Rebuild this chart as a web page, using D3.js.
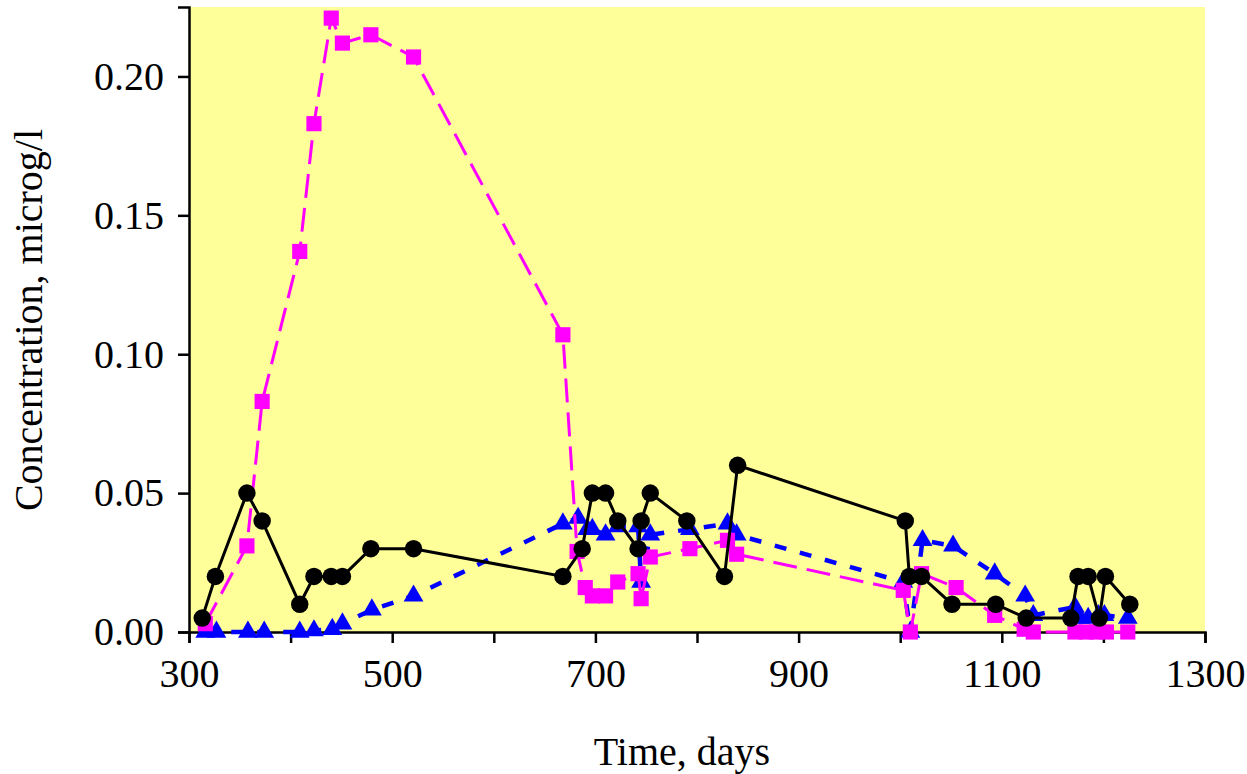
<html>
<script src="https://d3js.org/d3.v7.min.js"></script>
<body style="margin:0;background:#fff">
<div id="chart"></div>
<script>
// black circles
var blackX = [313,326,357,372,409,423,440,451,479,521,668,687,697,710,722,742,745,754,790,827,840,1005,1009,1021,1051,1094,1124,1168,1175,1185,1196,1202,1226];
var blackY = [0.005,0.02,0.05,0.04,0.01,0.02,0.02,0.02,0.03,0.03,0.02,0.03,0.05,0.05,0.04,0.03,0.04,0.05,0.04,0.02,0.06,0.04,0.02,0.02,0.01,0.01,0.005,0.005,0.02,0.02,0.005,0.02,0.01];
// magenta squares
var pinkX = [316,357,372,409,423,440,451,479,521,668,682,690,697,710,722,742,745,754,793,830,839,1003,1010,1021,1055,1093,1122,1131,1172,1183,1193,1203,1224];
var pinkY = [0.003,0.031,0.083,0.137,0.183,0.221,0.212,0.215,0.207,0.107,0.029,0.016,0.013,0.013,0.018,0.021,0.012,0.027,0.030,0.033,0.028,0.015,0.0,0.021,0.016,0.006,0.001,0.0,0.0,0.0,0.0,0.0,0.0];
// blue triangles
var blueX = [316,327,358,374,409,423,441,451,480,521,668,683,692,697,710,722,742,745,754,793,830,839,1003,1010,1022,1052,1093,1123,1131,1172,1177,1185,1195,1201,1224];
var blueY = [0,0,0,0,0,0.0005,0.001,0.003,0.008,0.013,0.039,0.041,0.037,0.037,0.035,0.038,0.038,0.018,0.035,0.037,0.039,0.035,0.018,0.0,0.033,0.031,0.021,0.013,0.006,0.009,0.005,0.005,0.006,0.006,0.005];
var yTicks = [0,0.05,0.10,0.15,0.20];
var xTicks = [300,500,700,900,1100,1300];

var width = 1247, height = 774;
var svg = d3.select("#chart").append("svg").attr("width", width).attr("height", height);
var x = d3.scaleLinear().domain([300,1300]).range([189,1205]);
var y = d3.scaleLinear().domain([0,0.225]).range([632,7]);

svg.append("rect").attr("x",189).attr("y",7).attr("width",1016).attr("height",625)
  .attr("fill","#ffff99");

var xa = svg.append("g").attr("transform","translate(0,632)")
  .call(d3.axisBottom(x).tickValues(d3.range(300,1301,100)).tickSize(11).tickPadding(16)
    .tickFormat(function(d){ return xTicks.indexOf(d) >= 0 ? d : ""; }));
var ya = svg.append("g").attr("transform","translate(189,0)")
  .call(d3.axisLeft(y).tickValues(yTicks).tickSize(11).tickPadding(14).tickFormat(d3.format(".2f")));
[xa, ya].forEach(function(a){
  a.selectAll("path,line").attr("stroke","#000").attr("stroke-width",2.5);
  a.selectAll("text").style("font-size","40px").style("font-family","Liberation Serif, serif").attr("fill","#000");
});

svg.append("text").attr("x",682).attr("y",765).attr("text-anchor","middle")
  .style("font-size","40px").style("font-family","Liberation Serif, serif").text("Time, days");
svg.append("text").attr("transform","translate(42,320) rotate(-90)").attr("text-anchor","middle")
  .style("font-size","40px").style("font-family","Liberation Serif, serif").text("Concentration, microg/l");

function series(xs, ys, color, dash, width, sym, size) {
  var pts = xs.map(function(v,i){ return [v, ys[i]]; });
  var line = d3.line().x(function(d){ return x(d[0]); }).y(function(d){ return y(d[1]); });
  svg.append("path").attr("d", line(pts)).attr("fill","none").attr("stroke",color)
    .attr("stroke-width",width).attr("stroke-dasharray",dash);
  svg.selectAll(null).data(pts).enter().append("path")
    .attr("transform", function(d){ return "translate(" + x(d[0]) + "," + y(d[1]) + ")"; })
    .attr("d", d3.symbol().type(sym).size(size)).attr("fill",color);
}
series(blueX, blueY, "#0000ff", "12,14", 4.5, d3.symbolTriangle, 170);
series(pinkX, pinkY, "#ff00ff", "24,10", 3, d3.symbolSquare, 230);
series(blackX, blackY, "#000000", null, 3, d3.symbolCircle, 240);
</script>
</body>
</html>
